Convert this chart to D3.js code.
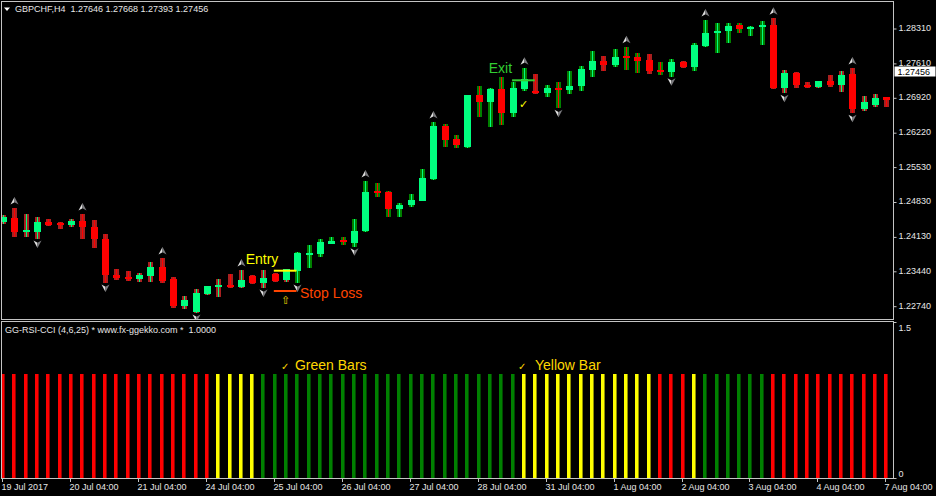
<!DOCTYPE html>
<html><head><meta charset="utf-8">
<script src="https://cdn.jsdelivr.net/npm/d3@7"></script>
<style>
html,body{margin:0;padding:0;background:#000;}
svg{display:block;}
text{font-family:"Liberation Sans",Arial,sans-serif;}
</style></head><body>
<svg id="c" width="936" height="496"></svg>
<script>
const symbolTitle = "GBPCHF,H4  1.27646 1.27668 1.27393 1.27456";
const indicatorTitle = "GG-RSI-CCI (4,6,25) * www.fx-ggekko.com *  1.0000";
const currentPrice = 1.27456;

const open = [
1.24429,1.24509,1.24238,1.24228,1.24429,1.24389,1.24369,1.24449,1.24328,1.24088,
1.23366,1.23325,1.23285,1.23345,1.23526,1.23285,1.22744,1.22623,1.22984,1.23145,
1.23165,1.23125,1.23345,1.23205,1.23386,1.23265,1.23446,1.23787,1.23787,1.23993,
1.24068,1.24007,1.24248,1.25041,1.25031,1.24696,1.24770,1.24856,1.25291,1.26354,
1.26088,1.25933,1.26976,1.26842,1.27097,1.26609,1.27091,1.27063,1.27010,1.27097,
1.27077,1.27157,1.27478,1.27664,1.27578,1.27753,1.27733,1.27678,1.27478,1.27444,
1.27644,1.27544,1.27959,1.28214,1.28266,1.28375,1.28306,1.28334,1.28381,1.27111,
1.27424,1.27177,1.27131,1.27251,1.27177,1.27398,1.26689,1.26776,1.26930];
const high = [
1.24569,1.24710,1.24589,1.24529,1.24489,1.24429,1.24495,1.24589,1.24469,1.24188,
1.23486,1.23446,1.23406,1.23626,1.23707,1.23325,1.22944,1.23085,1.23155,1.23285,
1.23386,1.23466,1.23366,1.23466,1.23406,1.23496,1.23827,1.23967,1.24088,1.24134,
1.24122,1.24489,1.25251,1.25211,1.25041,1.24816,1.24990,1.25498,1.26435,1.26395,
1.26174,1.26986,1.27157,1.27107,1.27331,1.27243,1.27512,1.27398,1.27177,1.27243,
1.27458,1.27558,1.27865,1.27759,1.27893,1.27945,1.27813,1.27799,1.27644,1.27692,
1.27664,1.28025,1.28481,1.28427,1.28415,1.28427,1.28360,1.28467,1.28515,1.27478,
1.27438,1.27243,1.27263,1.27372,1.27464,1.27518,1.26956,1.26996,1.26942];
const low = [
1.24389,1.24128,1.24128,1.24088,1.24348,1.24288,1.24334,1.24088,1.23907,1.23205,
1.23265,1.23245,1.23225,1.23225,1.23205,1.22704,1.22684,1.22603,1.22964,1.22924,
1.23115,1.23115,1.23185,1.23105,1.23235,1.23231,1.23205,1.23506,1.23727,1.23987,
1.23973,1.23933,1.24238,1.24930,1.24529,1.24523,1.24724,1.24850,1.25271,1.25939,
1.25907,1.25923,1.26529,1.26340,1.26375,1.26529,1.27063,1.27006,1.26930,1.26710,
1.26996,1.27063,1.27343,1.27464,1.27532,1.27478,1.27424,1.27398,1.27378,1.27343,
1.27512,1.27464,1.27945,1.27813,1.28025,1.28226,1.28160,1.27979,1.27103,1.27010,
1.27111,1.27111,1.27111,1.27131,1.27043,1.26609,1.26661,1.26742,1.26736];
const close = [
1.24529,1.24228,1.24248,1.24429,1.24369,1.24369,1.24449,1.24328,1.24088,1.23366,
1.23305,1.23285,1.23366,1.23526,1.23245,1.22744,1.22864,1.23004,1.23145,1.23155,
1.23135,1.23265,1.23205,1.23305,1.23245,1.23486,1.23807,1.23807,1.24028,1.24054,
1.24038,1.24248,1.25031,1.25010,1.24690,1.24770,1.24870,1.25311,1.26354,1.26074,
1.25973,1.26976,1.26842,1.27097,1.26609,1.27111,1.27291,1.27010,1.27111,1.27083,
1.27157,1.27492,1.27664,1.27578,1.27745,1.27739,1.27664,1.27464,1.27448,1.27644,
1.27544,1.27979,1.28226,1.28266,1.28360,1.28306,1.28346,1.28381,1.27111,1.27424,
1.27177,1.27131,1.27251,1.27171,1.27378,1.26689,1.26842,1.26910,1.26882];
// trend of the thick shadow (u = up, d = down)
const wickTrend = [
"d","d","d","d","d","d","d","d","d","d",
"d","d","d","d","d","d","d","d","d","d",
"d","d","d","d","d","d","u","u","u","u",
"u","u","u","u","u","u","u","u","u","u",
"u","u","u","u","u","u","u","d","u","u",
"u","u","u","d","u","u","u","d","u","u",
"d","u","u","u","u","u","u","u","d","d",
"d","d","d","d","d","d","d","d","d"];
// GG-RSI-CCI signal colour per bar (r, y, g), value 1
const signal = [
"r","r","r","r","r","r","r","r","r","r",
"r","r","r","r","r","r","r","r","r","y",
"y","y","y","g","g","g","g","g","g","g",
"g","g","g","g","g","g","g","g","g","g",
"g","g","g","g","g","g","y","y","y","y",
"y","y","y","y","y","y","y","y","r","r",
"r","y","g","g","g","g","g","g","r","r",
"r","r","r","r","r","r","r","r","r"];
const signalValue = [
1,1,1,1,1,1,1,1,1,1,1,1,1,1,1,1,1,1,1,1,
1,1,1,1,1,1,1,1,1,1,1,1,1,1,1,1,1,1,1,1,
1,1,1,1,1,1,1,1,1,1,1,1,1,1,1,1,1,1,1,1,
1,1,1,1,1,1,1,1,1,1,1,1,1,1,1,1,1,1,1];
const fractalUp = [1,7,14,21,32,38,46,55,62,68,75];
const fractalDown = [3,9,17,23,26,31,49,59,69,75];
const priceTicks = [1.22740,1.23440,1.24130,1.24830,1.25530,1.26220,1.26920,1.27610,1.28310];
const indTicks = [0, 1.5];
const timeBars = [0,6,12,18,24,30,36,42,48,54,60,66,72,78];
const timeLabels = ["19 Jul 2017","20 Jul 04:00","21 Jul 04:00","24 Jul 04:00","25 Jul 04:00","26 Jul 04:00","27 Jul 04:00","28 Jul 04:00","31 Jul 04:00","1 Aug 04:00","2 Aug 04:00","3 Aug 04:00","4 Aug 04:00","7 Aug 04:00"];

const BULL="#00ff7f", BEAR="#ff0000", WICK_UP="#008000", WICK_DN="#a82020";
const SIG = {r:"#ff0000", y:"#ffff00", g:"#008000"};
const SIG_DARK = {r:"#900000", y:"#909000", g:"#004800"};
const AX="#e6e6e6", FRAME="#c4c4c4";

const svg = d3.select("#c");
svg.append("rect").attr("width",936).attr("height",496).attr("fill","#000");

const x = d3.scaleLinear().domain([0, open.length-1]).range([3, 886.4]);
const y = d3.scaleLinear().domain([priceTicks[0], priceTicks[priceTicks.length-1]]).range([306.2, 28.5]);
const yi = d3.scaleLinear().domain([0, 1.5]).range([478, 322]);
const cxOf = i => Math.round(x(i));

const defs = svg.append("defs");
defs.append("clipPath").attr("id","cm").append("rect").attr("x",2).attr("y",2).attr("width",891).attr("height",317);
defs.append("clipPath").attr("id","ci").append("rect").attr("x",2).attr("y",322).attr("width",891).attr("height",156.5);

// ---- candles
const idx = d3.range(open.length);
const gc = svg.append("g").attr("clip-path","url(#cm)").attr("shape-rendering","crispEdges");
gc.selectAll("rect.w").data(idx).join("rect").attr("class","w")
  .attr("x",i=>cxOf(i)-2).attr("width",5)
  .attr("y",i=>y(high[i])).attr("height",i=>Math.max(1,y(low[i])-y(high[i])))
  .attr("fill",i=>wickTrend[i]==="u"?WICK_UP:WICK_DN);
gc.selectAll("rect.t").data(idx).join("rect").attr("class","t")
  .attr("x",i=>cxOf(i)).attr("width",1)
  .attr("y",i=>y(high[i])).attr("height",i=>Math.max(1,y(low[i])-y(high[i])))
  .attr("fill",i=>close[i]>=open[i]?BULL:BEAR);
gc.selectAll("rect.b").data(idx).join("rect").attr("class","b")
  .attr("x",i=>cxOf(i)-3).attr("width",7)
  .attr("y",i=>{const t=y(Math.max(open[i],close[i])), b=y(Math.min(open[i],close[i])); return (b-t<2)?(t+b)/2-1:t;})
  .attr("height",i=>Math.max(2,y(Math.min(open[i],close[i]))-y(Math.max(open[i],close[i]))))
  .attr("fill",i=>close[i]>=open[i]?BULL:BEAR);

// ---- fractal arrows
const ga = svg.append("g").attr("clip-path","url(#cm)");
function arrow(cx, cy, dir){
  const g = ga.append("g").attr("transform",`translate(${cx+0.5},${cy}) scale(1,${dir})`);
  g.append("path").attr("d","M0,-4 L-4,3.5 L0,1.2 Z").attr("fill","#e0e0e0");
  g.append("path").attr("d","M0,-4 L4,3.5 L0,1.2 Z").attr("fill","#7c7c80");
}
fractalUp.forEach(i=>arrow(cxOf(i), y(high[i])-7, 1));
fractalDown.forEach(i=>arrow(cxOf(i), y(low[i])+5, -1));

// ---- annotations (main)
const ann = svg.append("g").attr("clip-path","url(#cm)");
ann.append("text").attr("x",x(24)+3.5).attr("y",y(1.23586)).attr("text-anchor","end")
  .attr("font-size",14).attr("fill","#ffff00").text("Entry");
ann.append("rect").attr("x",x(24)-1).attr("width",x(26)-x(24)).attr("y",y(1.23452)-1).attr("height",2).attr("fill","#ffff00");
ann.append("rect").attr("x",x(24)-1).attr("width",x(26)-x(24)).attr("y",y(1.23045)-1).attr("height",2).attr("fill","#ff4500");
ann.append("text").attr("x",x(26)+2.5).attr("y",y(1.22898)).attr("font-size",14).attr("fill","#ff4500").text("Stop Loss");
ann.append("text").attr("x",x(25)-0.6).attr("y",y(1.22790)).attr("text-anchor","middle")
  .attr("font-family","DejaVu Sans").attr("font-size",11).attr("fill","#e8d000").text("⇧");
ann.append("text").attr("x",x(45)-0.6).attr("y",y(1.27412)).attr("text-anchor","end")
  .attr("font-size",14).attr("fill","#32cd32").text("Exit");
ann.append("rect").attr("x",x(45)-0.6).attr("width",x(47)-x(45)).attr("y",y(1.27271)-1).attr("height",2).attr("fill","#32cd32");
ann.append("text").attr("x",x(46)-0.5).attr("y",y(1.26806)+4.5).attr("text-anchor","middle")
  .attr("font-family","DejaVu Sans").attr("font-size",11).attr("fill","#ffff00").text("✓");

// ---- indicator histogram
const gi = svg.append("g").attr("clip-path","url(#ci)").attr("shape-rendering","crispEdges");
gi.selectAll("rect.s").data(idx).join("rect").attr("class","s")
  .attr("x",i=>cxOf(i)-2).attr("width",3)
  .attr("y",i=>yi(signalValue[i])).attr("height",i=>yi(0)-yi(signalValue[i]))
  .attr("fill",i=>SIG[signal[i]]);
gi.selectAll("rect.sd").data(idx).join("rect").attr("class","sd")
  .attr("x",i=>cxOf(i)+1).attr("width",1)
  .attr("y",i=>yi(signalValue[i])).attr("height",i=>yi(0)-yi(signalValue[i]))
  .attr("fill",i=>SIG_DARK[signal[i]]);

const gl = svg.append("g");
gl.append("text").attr("x",x(25)-1.6).attr("y",370).attr("text-anchor","middle")
  .attr("font-family","DejaVu Sans").attr("font-size",10).attr("fill","#ffd700").text("✓");
gl.append("text").attr("x",x(26)-2.5).attr("y",369.5).attr("font-size",14).attr("fill","#ffd700").text("Green Bars");
gl.append("text").attr("x",x(46)-1.5).attr("y",370).attr("text-anchor","middle")
  .attr("font-family","DejaVu Sans").attr("font-size",10).attr("fill","#ffd700").text("✓");
gl.append("text").attr("x",x(47)-0.3).attr("y",369.5).attr("font-size",14).attr("fill","#ffd700").text("Yellow Bar");

// ---- frames
const fr = svg.append("g").attr("fill","none").attr("stroke",FRAME).attr("stroke-width",1).attr("shape-rendering","crispEdges");
fr.append("rect").attr("x",1.5).attr("y",1.5).attr("width",892).attr("height",317.5);
fr.append("rect").attr("x",1.5).attr("y",321.5).attr("width",892).attr("height",157);

// ---- price axis
const pa = svg.append("g").attr("transform","translate(893.5,0)")
  .call(d3.axisRight(y).tickValues(priceTicks).tickFormat(d3.format(".5f")).tickSize(3).tickPadding(2));
pa.select(".domain").remove();
pa.selectAll("line").attr("stroke",FRAME);
pa.selectAll("text").attr("fill",AX).attr("font-size",9).attr("font-family","Liberation Sans").attr("dy","0.22em");

// current price label
const cp = svg.append("g");
cp.append("rect").attr("x",894.5).attr("y",Math.round(y(currentPrice))-4.5).attr("width",41).attr("height",10).attr("fill","#ffffff");
cp.append("text").attr("x",897.5).attr("y",Math.round(y(currentPrice))+3.5).attr("font-size",9).attr("fill","#000").text(d3.format(".5f")(currentPrice));

// ---- indicator axis
const ia = svg.append("g").attr("transform","translate(893.5,0)")
  .call(d3.axisRight(yi).tickValues(indTicks).tickFormat(d=>d===0?"0":d3.format(".1f")(d)).tickSize(3).tickPadding(2));
ia.select(".domain").remove();
ia.selectAll("line").attr("stroke",FRAME);
ia.selectAll("text").attr("fill",AX).attr("font-size",9).attr("font-family","Liberation Sans")
  .attr("dy",d=>d===0?"-0.15em":"0.95em");

// ---- time axis
const ta = svg.append("g").attr("transform","translate(0,479)")
  .call(d3.axisBottom(x).tickValues(timeBars).tickFormat((d,k)=>timeLabels[k]).tickSize(3).tickPadding(2));
ta.select(".domain").remove();
ta.selectAll(".tick").attr("transform",d=>`translate(${cxOf(d)-0.5},0)`);
ta.selectAll("line").attr("stroke",FRAME);
ta.selectAll("text").attr("fill",AX).attr("font-size",9).attr("font-family","Liberation Sans").attr("text-anchor","start").attr("x",-1);

// ---- titles
svg.append("path").attr("d","M4,7.5 L10,7.5 L7,11 Z").attr("fill","#ffffff");
svg.append("text").attr("x",15).attr("y",12).attr("font-size",9).attr("fill",AX).style("white-space","pre").text(symbolTitle);
svg.append("text").attr("x",5).attr("y",333).attr("font-size",9).attr("fill",AX).style("white-space","pre").text(indicatorTitle);
</script>
</body></html>
